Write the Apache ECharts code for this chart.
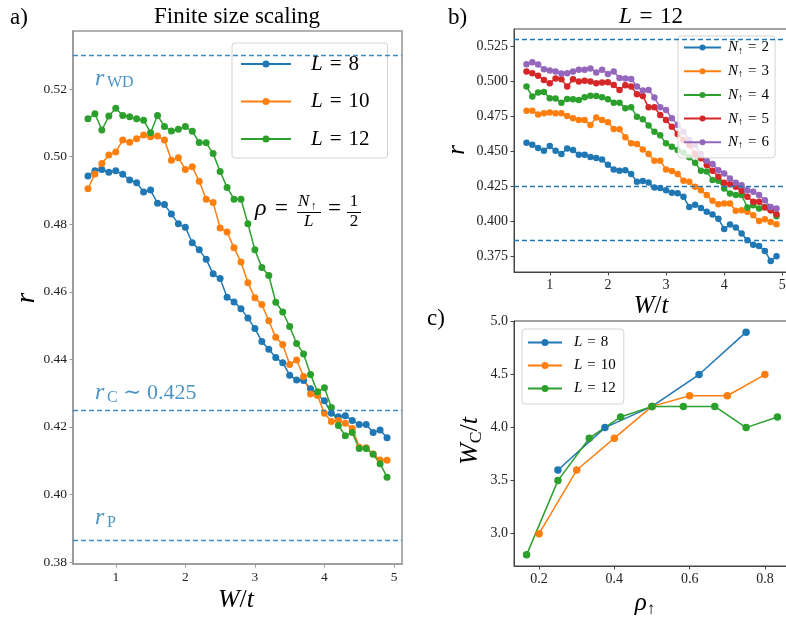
<!DOCTYPE html>
<html>
<head>
<meta charset="utf-8">
<script src="https://cdn.jsdelivr.net/npm/echarts@6/dist/echarts.min.js"></script>
<style>
  html, body { margin: 0; padding: 0; background: #fff; }
  #main { width: 786px; height: 619px; }
</style>
</head>
<body>
<div id="main"></div>
<script>
// W/t values shared by panels a) and b)
var wValues = [0.6,0.7,0.8,0.9,1.0,1.1,1.2,1.3,1.4,1.5,1.6,1.7,1.8,1.9,2.0,2.1,2.2,2.3,2.4,2.5,
  2.6,2.7,2.8,2.9,3.0,3.1,3.2,3.3,3.4,3.5,3.6,3.7,3.8,3.9,4.0,4.1,4.2,4.3,4.4,4.5,4.6,4.7,4.8,4.9];

// a) finite size scaling, rho = 1/2
var rL8 = [0.4943,0.4958,0.4962,0.4954,0.4958,0.4948,0.4931,0.4923,0.4895,0.4901,0.4862,0.4858,0.4830,0.4801,
  0.4791,0.4745,0.4724,0.4696,0.4653,0.4639,0.4584,0.4570,0.4550,0.4522,0.4491,0.4453,0.4430,0.4405,0.4390,
  0.4353,0.4339,0.4337,0.4313,0.4295,0.4277,0.4240,0.4230,0.4233,0.4219,0.4207,0.4207,0.4183,0.4191,0.4168];
var rL10 = [0.4905,0.4949,0.4980,0.5005,0.5014,0.5049,0.5043,0.5053,0.5064,0.5059,0.5061,0.5049,0.4989,0.4997,
  0.4962,0.4970,0.4927,0.4874,0.4864,0.4789,0.4777,0.4730,0.4688,0.4627,0.4582,0.4562,0.4514,0.4465,0.4444,
  0.4385,0.4398,0.4349,0.4297,0.4293,0.4240,0.4216,0.4219,0.4211,0.4195,0.4140,0.4138,0.4120,0.4102,0.4101];
var rL12 = [0.5112,0.5127,0.5079,0.5120,0.5143,0.5122,0.5118,0.5112,0.5108,0.5071,0.5122,0.5089,0.5076,0.5081,
  0.5089,0.5075,0.5042,0.5041,0.5009,0.4956,0.4909,0.4874,0.4874,0.4801,0.4724,0.4672,0.4648,0.4569,0.4540,
  0.4497,0.4447,0.4416,0.4355,0.4304,0.4316,0.4257,0.4204,0.4174,0.4183,0.4136,0.4136,0.4119,0.4091,0.4051];

// b) L = 12, different N_up
var nUp2 = [0.4560,0.4545,0.4521,0.4502,0.4536,0.4502,0.4479,0.4519,0.4507,0.4474,0.4474,0.4457,0.4450,0.4440,
  0.4402,0.4369,0.4360,0.4364,0.4336,0.4281,0.4286,0.4276,0.4240,0.4236,0.4221,0.4202,0.4200,0.4174,0.4102,
  0.4117,0.4095,0.4067,0.4048,0.4017,0.3945,0.3976,0.3955,0.3912,0.3864,0.3833,0.3824,0.3788,0.3717,0.3750];
var nUp3 = [0.4788,0.4788,0.4760,0.4769,0.4774,0.4769,0.4769,0.4750,0.4733,0.4721,0.4721,0.4686,0.4740,0.4721,
  0.4705,0.4657,0.4655,0.4598,0.4555,0.4550,0.4512,0.4479,0.4431,0.4431,0.4369,0.4357,0.4336,0.4288,0.4281,
  0.4245,0.4221,0.4186,0.4145,0.4121,0.4126,0.4126,0.4074,0.4079,0.4067,0.4043,0.4002,0.4014,0.3995,0.3979];
var nUp4 = [0.4960,0.4888,0.4917,0.4921,0.4876,0.4874,0.4845,0.4871,0.4869,0.4864,0.4883,0.4895,0.4893,0.4883,
  0.4869,0.4845,0.4845,0.4805,0.4812,0.4745,0.4726,0.4683,0.4638,0.4612,0.4555,0.4531,0.4507,0.4488,0.4455,
  0.4417,0.4360,0.4355,0.4293,0.4288,0.4233,0.4198,0.4186,0.4186,0.4098,0.4114,0.4090,0.4102,0.4079,0.4036];
var nUp5 = [0.5067,0.5055,0.5036,0.5007,0.4983,0.5017,0.5012,0.4960,0.5012,0.4995,0.5002,0.4995,0.4983,0.4988,
  0.4990,0.4971,0.4936,0.4969,0.4960,0.4905,0.4893,0.4812,0.4812,0.4757,0.4721,0.4674,0.4621,0.4579,0.4543,
  0.4479,0.4448,0.4400,0.4360,0.4317,0.4274,0.4264,0.4245,0.4217,0.4174,0.4138,0.4138,0.4098,0.4079,0.4050];
var nUp6 = [0.5119,0.5133,0.5117,0.5083,0.5074,0.5067,0.5052,0.5055,0.5067,0.5079,0.5079,0.5088,0.5060,0.5079,
  0.5050,0.5067,0.5021,0.5017,0.5014,0.4960,0.4931,0.4936,0.4881,0.4812,0.4793,0.4733,0.4686,0.4638,0.4579,
  0.4543,0.4479,0.4431,0.4407,0.4364,0.4340,0.4305,0.4274,0.4257,0.4221,0.4210,0.4186,0.4150,0.4102,0.4090];

// c) critical W vs filling
var rhoL8 = [0.25,0.375,0.5,0.625,0.75];
var wcL8 = [3.6,4.0,4.2,4.5,4.9];
var rhoL10 = [0.2,0.3,0.4,0.5,0.6,0.7,0.8];
var wcL10 = [3.0,3.6,3.9,4.2,4.3,4.3,4.5];
var rhoL12 = [0.1667,0.25,0.3333,0.4167,0.5,0.5833,0.6667,0.75,0.8333];
var wcL12 = [2.8,3.5,3.9,4.1,4.2,4.2,4.2,4.0,4.1];

// reference levels
var refLevels = [0.53, 0.425, 0.3863];

// tick labels
var wTicks = [1,2,3,4,5];
var rTicksA = [0.38,0.40,0.42,0.44,0.46,0.48,0.50,0.52];
var rTicksB = [0.375,0.400,0.425,0.450,0.475,0.500,0.525];
var rhoTicks = [0.2,0.4,0.6,0.8];
var wcTicks = [3.0,3.5,4.0,4.5,5.0];

var FONT = "'Liberation Serif', 'DejaVu Serif', serif";
var C = ['#1f77b4','#ff7f0e','#2ca02c','#d62728','#9467bd'];
var SP = '\u2004';

function pts(xs, ys) {
  return xs.map(function (x, i) { return [x, ys[i]]; });
}

function lineSeries(name, color, xs, ys, gi, size) {
  return {
    name: name, type: 'line', xAxisIndex: gi, yAxisIndex: gi,
    data: pts(xs, ys), symbol: 'circle', symbolSize: size, showSymbol: true,
    lineStyle: { color: color, width: 1.5 }, itemStyle: { color: color },
    emphasis: { disabled: true }, animation: false
  };
}

function refLines(color) {
  return {
    silent: true, symbol: ['none', 'none'], label: { show: false }, animation: false,
    precision: 4,
    lineStyle: { color: color, type: [5, 3], width: 1.4 },
    emphasis: { disabled: true },
    data: refLevels.map(function (v) { return { yAxis: v }; })
  };
}

function xAxis(gi, min, max, ticks, col, fs, fmt) {
  return {
    type: 'value', gridIndex: gi, min: min, max: max, position: 'bottom',
    axisLine: { show: true, onZero: false, lineStyle: { color: col, width: gi === 0 ? 1.6 : 1 } },
    axisTick: { show: true, length: 3.5, customValues: ticks, lineStyle: { color: col } },
    axisLabel: { customValues: ticks, fontFamily: FONT, fontSize: fs, color: '#222', margin: 6, formatter: fmt },
    splitLine: { show: false }
  };
}

function yAxis(gi, min, max, ticks, col, fs, fmt) {
  return {
    type: 'value', gridIndex: gi, min: min, max: max, position: 'left',
    axisLine: { show: true, onZero: false, lineStyle: { color: col, width: gi === 0 ? 1.6 : 1 } },
    axisTick: { show: true, length: 3.5, customValues: ticks, lineStyle: { color: col } },
    axisLabel: { customValues: ticks, fontFamily: FONT, fontSize: fs, color: '#222', margin: 6, formatter: fmt },
    splitLine: { show: false }
  };
}

function legendRich(fs, lh, gap) {
  return {
    g: { width: gap, lineHeight: lh },
    i: { fontFamily: FONT, fontStyle: 'italic', fontSize: fs, lineHeight: lh, color: '#000' },
    n: { fontFamily: FONT, fontSize: fs, lineHeight: lh, color: '#000' },
    s: { fontFamily: FONT, fontSize: fs * 0.68, lineHeight: fs * 0.68, verticalAlign: 'bottom', color: '#000' }
  };
}

function fmtL(name) {
  return '{g| }{i|L}{n|' + name.slice(1).replace(/ /g, SP) + '}';
}
function fmtN(name) {
  return '{g| }{i|N}{s|\u2191}{n|' + name.slice(2).replace(/ /g, SP) + '}';
}

function legendBox(left, top, pad, names, fmt, fs, lh, gap, iw, ih, ig) {
  return {
    left: left, top: top, orient: 'vertical', padding: pad, data: names,
    itemWidth: iw, itemHeight: ih, itemGap: ig, selectedMode: false,
    backgroundColor: 'rgba(255,255,255,0.8)', borderColor: '#d3d3d3', borderWidth: 1, borderRadius: 3,
    formatter: fmt,
    textStyle: { fontFamily: FONT, fontSize: fs, lineHeight: lh, color: '#000', rich: legendRich(fs, lh, gap) }
  };
}

// math-ish text via rich tokens: i italic, n upright, s subscript
function mtext(x, y, text, size, opt) {
  opt = opt || {};
  var fill = opt.fill || '#000';
  return {
    type: 'text', x: x, y: y, rotation: opt.rot || 0, silent: true, z: 100,
    style: {
      text: text, fill: fill, fontFamily: FONT, fontSize: size,
      align: opt.align || 'center', verticalAlign: 'middle',
      rich: {
        i: { fontFamily: FONT, fontStyle: 'italic', fontSize: size, lineHeight: size * 1.2, fill: fill },
        n: { fontFamily: FONT, fontSize: size, lineHeight: size * 1.2, fill: fill },
        s: { fontFamily: FONT, fontSize: size * 0.68, lineHeight: size * 0.68, verticalAlign: 'bottom', fill: fill }
      }
    }
  };
}

function ptext(x, y, text, size, align, italic, fill) {
  return {
    type: 'text', x: x, y: y, silent: true, z: 100,
    style: { text: text, fill: fill || '#000', fontFamily: FONT, fontSize: size,
      fontStyle: italic ? 'italic' : 'normal', align: align, verticalAlign: 'middle' }
  };
}

function bar(x1, x2, y) {
  return { type: 'line', silent: true, z: 100, shape: { x1: x1, y1: y, x2: x2, y2: y },
    style: { stroke: '#000', lineWidth: 1 } };
}

var blueTxt = 'rgba(31,119,180,0.8)';

var graphics = [
  ptext(10, 18, 'a)', 23, 'left'),
  ptext(448, 18, 'b)', 23, 'left'),
  ptext(427, 319, 'c)', 23, 'left'),
  ptext(237, 17, 'Finite size scaling', 23, 'center'),
  mtext(651, 17, '{i|L}{n|' + SP + '=' + SP + '12}', 23),

  // axis names
  mtext(27, 298, '{i|r}', 27, { rot: Math.PI / 2 }),
  mtext(236, 600, '{i|W}{n|/}{i|t}', 26),
  mtext(457, 150, '{i|r}', 25, { rot: Math.PI / 2 }),
  mtext(651, 306, '{i|W}{n|/}{i|t}', 25),
  mtext(470, 441, '{i|W}{s|C}{n|/}{i|t}', 26, { rot: Math.PI / 2 }),
  mtext(645, 603, '{i|\u03c1}{s|\u2191}', 25),

  // reference level labels
  ptext(95, 79, 'r', 24, 'left', true, blueTxt),
  ptext(107, 83, 'WD', 16, 'left', false, blueTxt),
  ptext(95, 393, 'r', 24, 'left', true, blueTxt),
  ptext(107, 398, 'C', 16, 'left', false, blueTxt),
  ptext(123, 393, '\u223c 0.425', 22, 'left', false, blueTxt),
  ptext(95, 518, 'r', 24, 'left', true, blueTxt),
  ptext(107, 523, 'P', 16, 'left', false, blueTxt),

  // rho = N_up / L = 1/2
  ptext(255, 209, '\u03c1', 24, 'left', true),
  ptext(275, 209, '=', 23, 'left'),
  ptext(298, 202, 'N', 17, 'left', true),
  ptext(311, 206, '\u2191', 11, 'left'),
  bar(297, 321, 212.5),
  ptext(304, 222, 'L', 17, 'left', true),
  ptext(328, 209, '=', 23, 'left'),
  ptext(354, 202, '1', 17, 'center'),
  bar(347, 361, 212.5),
  ptext(354, 222, '2', 17, 'center')
];

var fmt2 = function (v) { return v.toFixed(2); };
var fmt3 = function (v) { return v.toFixed(3); };
var fmt1 = function (v) { return v.toFixed(1); };
var fmt0 = function (v) { return String(v); };

var sA1 = lineSeries('L = 8', C[0], wValues, rL8, 0, 7);
sA1.markLine = refLines('rgba(31,119,180,0.85)');
var sB1 = lineSeries('N\u2191 = 2', C[0], wValues, nUp2, 1, 6.5);
sB1.markLine = refLines(C[0]);

var option = {
  animation: false,
  backgroundColor: '#fff',
  grid: [
    { left: 73, top: 31, width: 329, height: 533, show: true, borderColor: '#999', borderWidth: 1.6, backgroundColor: 'transparent', outerBoundsMode: 'none' },
    { left: 514, top: 29, width: 275, height: 243, show: true, borderColor: '#444', borderWidth: 1, backgroundColor: 'transparent', outerBoundsMode: 'none' },
    { left: 514, top: 321, width: 276, height: 245, show: true, borderColor: '#444', borderWidth: 1, backgroundColor: 'transparent', outerBoundsMode: 'none' }
  ],
  xAxis: [
    xAxis(0, 0.385, 5.115, wTicks, '#999', 13.5, fmt0),
    xAxis(1, 0.385, 5.115, wTicks, '#444', 14, fmt0),
    xAxis(2, 0.1333, 0.8667, rhoTicks, '#444', 14, fmt1)
  ],
  yAxis: [
    yAxis(0, 0.3794, 0.5372, rTicksA, '#999', 13.5, fmt2),
    yAxis(1, 0.3638, 0.5370, rTicksB, '#444', 14, fmt3),
    yAxis(2, 2.695, 5.005, wcTicks, '#444', 14, fmt1)
  ],
  legend: [
    legendBox(232, 43, [8, 18, 6, 8], ['L = 8', 'L = 10', 'L = 12'], fmtL, 21, 26, 15, 50, 8.75, 11.5),
    legendBox(678, 36, [3, 6, 7, 5], ['N\u2191 = 2', 'N\u2191 = 3', 'N\u2191 = 4', 'N\u2191 = 5', 'N\u2191 = 6'], fmtN, 15, 17, 2, 37, 7.5, 6.7),
    legendBox(522, 329, [5, 8, 7, 5], ['L = 8', 'L = 10', 'L = 12'], fmtL, 15, 17, 7, 34, 8.75, 6)
  ],
  series: [
    sA1,
    lineSeries('L = 10', C[1], wValues, rL10, 0, 7),
    lineSeries('L = 12', C[2], wValues, rL12, 0, 7),
    sB1,
    lineSeries('N\u2191 = 3', C[1], wValues, nUp3, 1, 6.5),
    lineSeries('N\u2191 = 4', C[2], wValues, nUp4, 1, 6.5),
    lineSeries('N\u2191 = 5', C[3], wValues, nUp5, 1, 6.5),
    lineSeries('N\u2191 = 6', C[4], wValues, nUp6, 1, 6.5),
    lineSeries('L = 8', C[0], rhoL8, wcL8, 2, 7.5),
    lineSeries('L = 10', C[1], rhoL10, wcL10, 2, 7.5),
    lineSeries('L = 12', C[2], rhoL12, wcL12, 2, 7.5)
  ],
  graphic: graphics
};

var myChart = echarts.init(document.getElementById('main'), null, { renderer: 'canvas' });
myChart.setOption(option);
</script>
</body>
</html>
